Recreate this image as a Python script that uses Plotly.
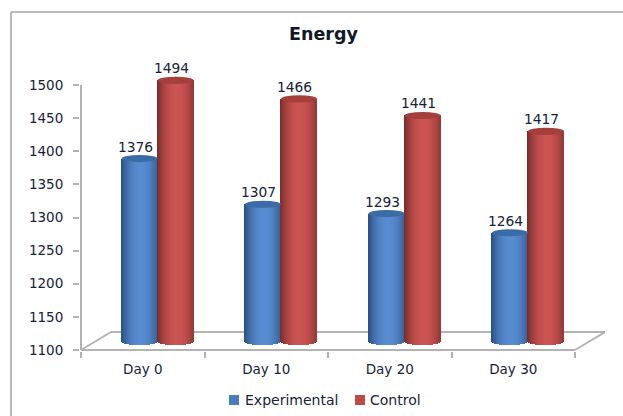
import numpy as np
import plotly.graph_objects as go

# Chart content
title = "Energy"
categories = ["Day 0", "Day 10", "Day 20", "Day 30"]
series_names = ["Experimental", "Control"]
experimental = [1376, 1307, 1293, 1264]
control = [1494, 1466, 1441, 1417]
y_ticks = [1100, 1150, 1200, 1250, 1300, 1350, 1400, 1450, 1500]

# Canvas and plot-area geometry, in pixels
W, H = 623, 416
ML, MR, MT, MB = 80, 18, 70, 65
PX_PER_X = 123.5
PX_PER_Y = 0.6625
AREA_W, AREA_H = W - ML - MR, H - MT - MB

x0 = -0.5 - 1 / PX_PER_X
y0 = 1100 - 1 / PX_PER_Y
x_range = [x0, x0 + AREA_W / PX_PER_X]
y_range = [y0, y0 + AREA_H / PX_PER_Y]

# Oblique offset of the floor, and of the cylinders resting on it
FLOOR_DX, FLOOR_DY = 30 / PX_PER_X, 18 / PX_PER_Y
BAR_DX, BAR_DY = 14.8 / PX_PER_X, 8.6 / PX_PER_Y

# Cylinder shape
STRIPS = 36
CYL_W = 36 / PX_PER_X
CAP_RY = 3.6 / PX_PER_Y
FOOT_RY = 3.8 / PX_PER_Y
FLOOR_VALUE = 1100
INK = "#18223a"
GRID = "#b3b3b3"
FONT = "DejaVu Sans"


def shade(t, edge, mid):
    """Colour across a cylinder: dark rims, a highlight just right of centre."""
    k = np.clip(1 - ((t - 0.1) / 1.1) ** 2, 0, 1)
    rgb = [round(e + (m - e) * k) for e, m in zip(edge, mid)]
    return f"rgb({rgb[0]},{rgb[1]},{rgb[2]})"


def px(x):
    return (x - ML) / AREA_W


def py(y):
    return 1 - (y - MT) / AREA_H


def cylinder(values, offset, edge, mid, name):
    """One bar trace of thin vertical strips per series, shaded across each cylinder."""
    xs, ys, bases, colors = [], [], [], []
    ts = (np.arange(STRIPS) + 0.5) / STRIPS * 2 - 1
    for i, v in enumerate(values):
        for t in ts:
            b = FLOOR_VALUE - FOOT_RY * np.sqrt(1 - t * t)
            xs.append(i + offset + t * CYL_W / 2)
            ys.append(v - b)
            bases.append(b)
            colors.append(shade(t, edge, mid))
    return go.Bar(
        x=xs, y=ys, base=bases, width=CYL_W / STRIPS * 1.25, name=name,
        xaxis="x2", yaxis="y2", marker=dict(color=colors, line_width=0),
        hoverinfo="skip", showlegend=False,
    )


BLUE_EDGE, BLUE_MID = (40, 78, 128), (88, 140, 208)
RED_EDGE, RED_MID = (118, 44, 42), (204, 84, 82)
BLUE_CAP, RED_CAP = "#3c6ca6", "#a53f3c"
LEFT_OFF, RIGHT_OFF = -CYL_W / 2, CYL_W / 2

fig = go.Figure()
fig.add_trace(cylinder(experimental, LEFT_OFF, BLUE_EDGE, BLUE_MID, series_names[0]))
fig.add_trace(cylinder(control, RIGHT_OFF, RED_EDGE, RED_MID, series_names[1]))

shapes = []
annotations = []

# Floor outline and value axis
for (xa, ya, xb, yb) in [
    (-0.5, 1100, -0.5, 1500),
    (-0.5, 1100, 3.5, 1100),
    (-0.5, 1100, -0.5 + FLOOR_DX, 1100 + FLOOR_DY),
    (3.5, 1100, 3.5 + FLOOR_DX, 1100 + FLOOR_DY),
    (-0.5 + FLOOR_DX, 1100 + FLOOR_DY, 3.5 + FLOOR_DX, 1100 + FLOOR_DY),
]:
    shapes.append(dict(type="line", xref="x", yref="y", x0=xa, y0=ya, x1=xb, y1=yb,
                       line=dict(color=GRID, width=2), layer="below"))

# Cylinder caps and value labels
for values, offset, cap in [(experimental, LEFT_OFF, BLUE_CAP), (control, RIGHT_OFF, RED_CAP)]:
    for i, v in enumerate(values):
        cx = i + offset
        shapes.append(dict(type="circle", xref="x2", yref="y2",
                           x0=cx - CYL_W / 2, x1=cx + CYL_W / 2,
                           y0=v - CAP_RY, y1=v + CAP_RY,
                           fillcolor=cap, line_width=0, layer="above"))
        annotations.append(dict(x=cx, y=v, xref="x2", yref="y2", text=str(v),
                                showarrow=False, xanchor="center", yanchor="bottom",
                                xshift=-4.5, yshift=2,
                                font=dict(family=FONT, size=13.8, color=INK)))

# Frame open on its right and bottom sides
for (xa, ya, xb, yb) in [(11, 416, 11, 12), (11, 12, 623, 12)]:
    shapes.append(dict(type="line", xref="paper", yref="paper",
                       x0=px(xa), y0=py(ya), x1=px(xb), y1=py(yb),
                       line=dict(color="#b9b9b9", width=2), layer="below"))

# Key below the chart
for name, color, swatch_x, text_x in [
    (series_names[0], "#4a7ebb", 229, 243),
    (series_names[1], "#be4b48", 355, 368),
]:
    shapes.append(dict(type="rect", xref="paper", yref="paper",
                       x0=px(swatch_x), x1=px(swatch_x + 10), y0=py(405), y1=py(395),
                       fillcolor=color, line_width=0))
    annotations.append(dict(x=px(text_x), y=py(400), xref="paper", yref="paper", text=name,
                            showarrow=False, xanchor="left", yanchor="middle",
                            font=dict(family=FONT, size=14, color=INK)))

annotations.append(dict(x=px(323), y=py(34), xref="paper", yref="paper", text=f"<b>{title}</b>",
                        showarrow=False, xanchor="center", yanchor="middle",
                        font=dict(family=FONT, size=17.5, color="#111827")))

fig.update_layout(
    width=W, height=H, autosize=False,
    margin=dict(l=ML, r=MR, t=MT, b=MB, pad=0),
    paper_bgcolor="white", plot_bgcolor="white",
    barmode="overlay", bargap=0, showlegend=False,
    shapes=shapes, annotations=annotations,
    xaxis=dict(
        range=x_range, showgrid=False, zeroline=False, showline=False,
        tickmode="array", tickvals=list(range(len(categories))), ticktext=categories,
        ticks="", ticklabelstandoff=8,
        tickfont=dict(family=FONT, size=13.5, color=INK),
        minor=dict(tickmode="array", tickvals=[-0.5, 0.5, 1.5, 2.5, 3.5], ticks="outside",
                   ticklen=6, tickwidth=2, tickcolor=GRID, showgrid=False),
    ),
    yaxis=dict(
        range=y_range, showgrid=False, zeroline=False, showline=False,
        tickmode="array", tickvals=y_ticks, ticks="outside", ticklen=6,
        tickwidth=2, tickcolor=GRID, ticklabelstandoff=7,
        tickfont=dict(family=FONT, size=13.5, color=INK),
    ),
    xaxis2=dict(range=[x_range[0] - BAR_DX, x_range[1] - BAR_DX], overlaying="x",
                visible=False, anchor="y2"),
    yaxis2=dict(range=[y_range[0] - BAR_DY, y_range[1] - BAR_DY], overlaying="y",
                visible=False, anchor="x2"),
)

fig.write_html("out.html")
